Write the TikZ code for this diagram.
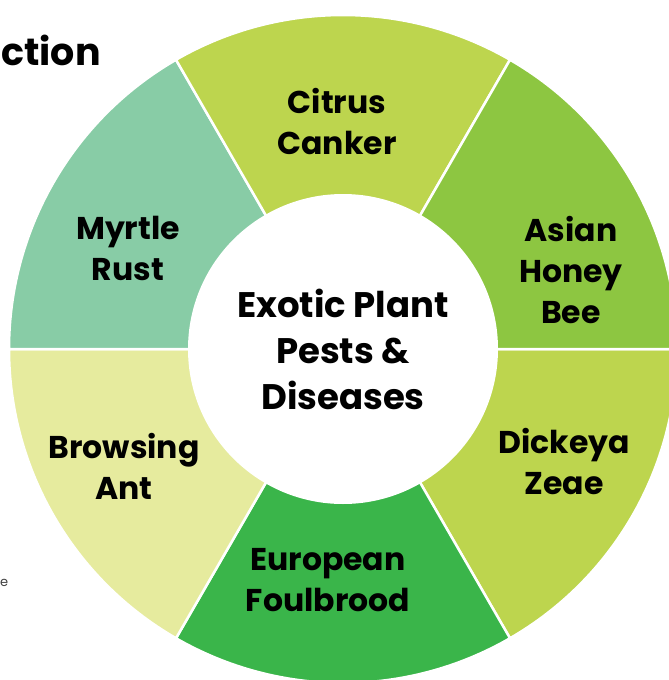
\documentclass[tikz,border=0pt]{standalone}
\usepackage{fontspec}
\setmainfont{Poppins}
\usetikzlibrary{positioning}
\definecolor{citrus}{HTML}{BDD54E}
\definecolor{honey}{HTML}{8DC641}
\definecolor{foul}{HTML}{3AB54A}
\definecolor{ant}{HTML}{E6EB9E}
\definecolor{myrtle}{HTML}{88CCA6}

\begin{document}
\begin{tikzpicture}[x=1pt, y=-1pt,
  sector/.style={draw=white, line width=2.5pt},
  lbl/.style={align=center, font=\bfseries\fontsize{31.5}{41}\selectfont},
  hub/.style={circle, fill=white, minimum size=310pt, align=center,
              font=\bfseries\fontsize{35.5}{46}\selectfont}
]
\useasboundingbox (0,0) rectangle (669,680);
\clip (0,0) rectangle (669,680);
\coordinate (c) at (343,349);
% ring, clockwise from east
\filldraw[sector, fill=citrus] (c) -- ++(0:334) arc[start angle=0, end angle=60, radius=334] -- cycle;
\filldraw[sector, fill=foul]   (c) -- ++(60:334) arc[start angle=60, end angle=120, radius=334] -- cycle;
\filldraw[sector, fill=ant]    (c) -- ++(120:334) arc[start angle=120, end angle=180, radius=334] -- cycle;
\filldraw[sector, fill=myrtle] (c) -- ++(180:334) arc[start angle=180, end angle=240, radius=334] -- cycle;
\filldraw[sector, fill=citrus] (c) -- ++(240:334) arc[start angle=240, end angle=300, radius=334] -- cycle;
\filldraw[sector, fill=honey]  (c) -- ++(300:334) arc[start angle=300, end angle=360, radius=334] -- cycle;
\node[hub] (core) at (c) {Exotic Plant\\Pests \&\\Diseases};
\node[lbl] (canker) at (337,122) {Citrus\\Canker};
\node[lbl] (bee)    at (571,270) {Asian\\Honey\\Bee};
\node[lbl] (zeae)   at (564,462) {Dickeya\\Zeae};
\node[lbl] (brood)  at (328,580) {European\\Foulbrood};
\node[lbl] (ant)    at (124,466) {Browsing\\Ant};
\node[lbl] (rust)   at (128,248) {Myrtle\\Rust};
% cut-off page text
\node[anchor=base west, inner sep=0pt, font=\bfseries\fontsize{38}{50}\selectfont] (head) at (1,65) {ction};
\node[anchor=base west, inner sep=0pt, text=black!75, font=\fontsize{13}{16}\selectfont] (side) at (0,586) {e};
\end{tikzpicture}
\end{document}
